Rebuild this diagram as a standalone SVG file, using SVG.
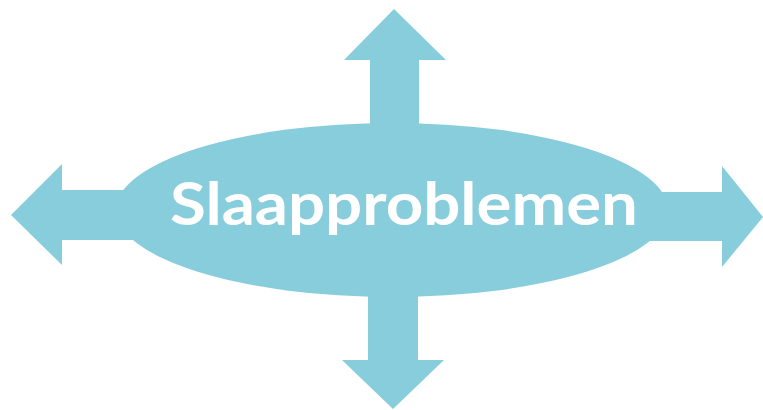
<svg xmlns="http://www.w3.org/2000/svg" width="763" height="410" viewBox="0 0 763 410">
<style>
.shape{fill:#88CDDC;stroke:none}
.label{font-family:Lato,"Open Sans","Liberation Sans",sans-serif;font-weight:bold;font-size:60px;fill:#FFFFFF}
</style>
<rect width="763" height="410" fill="#FFFFFF"/>
<g id="connectors">
<polygon id="arrow-up" class="shape" points="394,9 446,60 419,60 419,140 370,140 370,60 344,60"/>
<polygon id="arrow-down" class="shape" points="393,409 444,360 418,360 418,280 368,280 368,360 342,360"/>
<polygon id="arrow-left" class="shape" points="11,215 62,164 62,190 160,190 160,240 62,240 62,265"/>
<polygon id="arrow-right" class="shape" points="763,217 722,166 722,192 620,192 620,241 722,241 722,267"/>
</g>
<g id="node-center">
<ellipse class="shape" cx="392" cy="210" rx="276" ry="87"/>
<text class="label" x="404" y="225" text-anchor="middle" textLength="468" lengthAdjust="spacingAndGlyphs">Slaapproblemen</text>
</g>
</svg>
